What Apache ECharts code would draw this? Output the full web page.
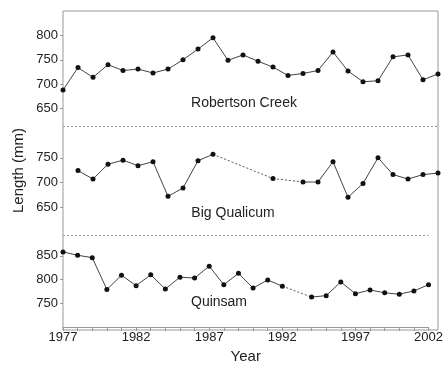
<!DOCTYPE html>
<html>
<head>
<meta charset="utf-8">
<script src="https://cdn.jsdelivr.net/npm/echarts@6/dist/echarts.min.js"></script>
<style>html,body{margin:0;padding:0;background:#fff}#c{width:446px;height:365px}</style>
</head>
<body>
<div id="c"></div>
<script>
const years = [1977,1978,1979,1980,1981,1982,1983,1984,1985,1986,1987,1988,1989,1990,1991,1992,1993,1994,1995,1996,1997,1998,1999,2000,2001,2002];
const robertson = [688,734,714,740,728,731,723,731,750,772,795,749,760,747,735,718,722,728,766,727,705,707,756,760,709,721];
const bigQualicum = [null,724,707,737,745,734,742,672,689,744,757,null,null,null,708,null,701,701,742,670,698,750,716,707,716,719];
const quinsam = [858,851,846,779,809,787,810,780,805,803,828,789,813,782,799,786,null,763,766,795,770,778,772,769,776,789];
const panelNames = ['Robertson Creek','Big Qualicum','Quinsam'];
const xTickLabels = [1977,1982,1987,1992,1997,2002];

const FONT = 'Liberation Sans, Arial, sans-serif';
const AX = '#999';
const TXT = '#222';

function pairs(vals){ return years.map((y,i)=>[y, vals[i]]); }
function bridges(vals){
  const out = [];
  let prev = -1;
  for (let i=0;i<vals.length;i++){
    if (vals[i]==null) continue;
    if (prev>=0 && i-prev>1){
      out.push([years[prev], vals[prev]], [years[i], vals[i]], [years[i], null]);
    }
    prev = i;
  }
  return out;
}

const seriesVals = [robertson, bigQualicum, quinsam];
const yRanges = [[600,850],[600,800],[700,900]];
const grids = [
  {left:63, right:8, top:11, height:122},
  {left:63, right:8, top:133, height:99},
  {left:63, right:8, top:232, height:98},
  {left:63, right:8, top:11, bottom:35, show:true, borderColor:AX, borderWidth:1}
];

const xAxes = [0,1,2].map(g=>({
  type:'value', gridIndex:g, min:1977, max:2002, interval:1,
  show: g===2,
  axisLine:{show:true, lineStyle:{color:AX}},
  axisTick:{show:true, length:4, lineStyle:{color:AX}},
  axisLabel:{show:true, margin:4, color:TXT, fontFamily:FONT, fontSize:13,
    alignMinLabel:'center', alignMaxLabel:'center', hideOverlap:false,
    formatter:v=> xTickLabels.indexOf(v)>=0 ? String(v) : ''},
  splitLine:{show:false},
  name: g===2 ? 'Year' : '', nameLocation:'middle', nameGap:22,
  nameTextStyle:{color:TXT, fontFamily:FONT, fontSize:15}
}));
xAxes.push({type:'value', gridIndex:3, show:false, min:0, max:1});

const yAxes = [0,1,2].map(g=>({
  type:'value', gridIndex:g, min:yRanges[g][0], max:yRanges[g][1], interval:50,
  axisLine:{show:false},
  axisTick:{show:true, length:3, lineStyle:{color:AX}},
  axisLabel:{show:true, showMinLabel:false, showMaxLabel:false, margin:5, color:TXT, fontFamily:FONT, fontSize:13},
  splitLine:{show:false}
}));
yAxes.push({type:'value', gridIndex:3, min:0, max:1,
  axisLine:{show:false}, axisTick:{show:false}, axisLabel:{show:false}, splitLine:{show:false},
  name:'Length (mm)', nameLocation:'middle', nameGap:37,
  nameTextStyle:{color:TXT, fontFamily:FONT, fontSize:15}});

const series = [];
const sepVals = [613, null, 894];
seriesVals.forEach((vals,g)=>{
  const s = {
    type:'line', xAxisIndex:g, yAxisIndex:g, data:pairs(vals), connectNulls:false,
    symbol:'circle', symbolSize:5, showSymbol:true,
    itemStyle:{color:'#111'}, lineStyle:{color:'#444', width:1}, z:3
  };
  if (sepVals[g]!=null){
    s.markLine = {silent:true, symbol:'none', label:{show:false},
      lineStyle:{color:AX, type:[2,2], width:1}, data:[{yAxis:sepVals[g]}]};
  }
  series.push(s);
  const b = bridges(vals);
  if (b.length){
    series.push({type:'line', xAxisIndex:g, yAxisIndex:g, data:b, connectNulls:false,
      symbol:'none', lineStyle:{color:'#555', width:1, type:[2,2]}, z:2});
  }
});

const labelPos = [[244,103],[233,213],[219,302]];
const graphic = panelNames.map((t,i)=>({
  type:'text', x:labelPos[i][0], y:labelPos[i][1],
  style:{text:t, fill:TXT, font:'14px '+FONT, textAlign:'center', textVerticalAlign:'middle'}
}));

const chart = echarts.init(document.getElementById('c'), null, {renderer:'canvas'});
chart.setOption({
  animation:false,
  backgroundColor:'#fff',
  grid:grids, xAxis:xAxes, yAxis:yAxes, series:series, graphic:graphic
});
</script>
</body>
</html>
